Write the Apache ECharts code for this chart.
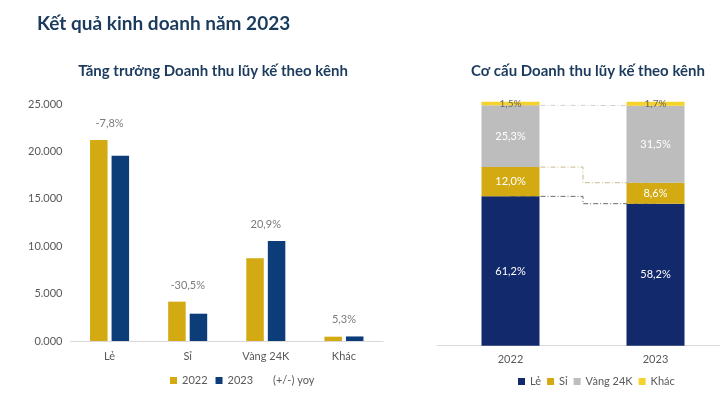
<!DOCTYPE html>
<html>
<head>
<meta charset="utf-8">
<script src="https://cdn.jsdelivr.net/npm/echarts@6/dist/echarts.min.js"></script>
<style>html,body{margin:0;padding:0;background:#fff}#c{width:720px;height:420px}</style>
</head>
<body>
<div id="c"></div>
<script>
// ---- Left chart data ----
const channels = ['Lẻ', 'Sỉ', 'Vàng 24K', 'Khác'];
const rev2022 = [21200, 4150, 8730, 455];
const rev2023 = [19550, 2880, 10550, 480];
const yoy = [-7.8, -30.5, 20.9, 5.3];
const yTicks = ['0.000', '5.000', '10.000', '15.000', '20.000', '25.000'];

// ---- Right chart data ----
const years = ['2022', '2023'];
const shareLe = [61.2, 58.2];
const shareSi = [12.0, 8.6];
const shareVang = [25.3, 31.5];
const shareKhac = [1.5, 1.7];

const FONT = 'Lato, "Noto Sans", sans-serif';
const NAVY_T = '#1b3b5e';
const GOLD = '#d4aa12';
const BLUE = '#0c3d78';
const NAVY = '#12296c';
const GRAY = '#bdbdbd';
const YELLOW = '#f6d22c';
const TXT = '#595959';

const pct = v => v.toFixed(1).replace('.', ',') + '%';
const cum = (...arrs) => arrs[0].map((_, i) => arrs.reduce((s, a) => s + a[i], 0));
const cumLe = cum(shareLe);
const cumSi = cum(shareLe, shareSi);
const cumVang = cum(shareLe, shareSi, shareVang);

const chart = echarts.init(document.getElementById('c'), null, {renderer: 'canvas'});
const option = {
  backgroundColor: '#fff',
  textStyle: {fontFamily: FONT},
  animation: false,
  title: [
    {text: 'Kết quả kinh doanh năm 2023', left: 32, top: 9,
     textStyle: {fontFamily: FONT, fontSize: 19, fontWeight: 'bold', color: NAVY_T}},
    {text: 'Tăng trưởng Doanh thu lũy kế theo kênh', left: 208, top: 59, textAlign: 'center',
     textStyle: {fontFamily: FONT, fontSize: 15, fontWeight: 'bold', color: NAVY_T}},
    {text: 'Cơ cấu Doanh thu lũy kế theo kênh', left: 583, top: 59, textAlign: 'center',
     textStyle: {fontFamily: FONT, fontSize: 15, fontWeight: 'bold', color: NAVY_T}}
  ],
  legend: [
    {data: ['2022', '2023', {name: '(+/-) yoy', icon: 'none'}], left: 165, top: 370,
     itemWidth: 7, itemHeight: 7, itemGap: 8, icon: 'rect',
     textStyle: {fontFamily: FONT, fontSize: 11, color: TXT}},
    {data: ['Lẻ', 'Sỉ', 'Vàng 24K', 'Khác'], left: 513, top: 371,
     itemWidth: 7, itemHeight: 7, itemGap: 6, icon: 'rect',
     textStyle: {fontFamily: FONT, fontSize: 11, color: TXT}}
  ],
  grid: [
    {left: 70.5, right: 337, top: 104, bottom: 79},
    {left: 510.5, right: 64.5, top: 101.7, bottom: 74.3},
    {left: 437.5, right: 0, top: 101.7, bottom: 74.3}
  ],
  xAxis: [
    {type: 'category', gridIndex: 0, data: channels,
     axisLine: {lineStyle: {color: '#d9d9d9'}}, axisTick: {show: false},
     axisLabel: {color: TXT, fontSize: 11, margin: 10, fontFamily: FONT}},
    {type: 'category', gridIndex: 1, data: years, boundaryGap: false,
     axisLine: {show: false}, axisTick: {show: false},
     axisLabel: {color: TXT, fontSize: 11, margin: 8, fontFamily: FONT}},
    {type: 'category', gridIndex: 2, data: years,
     axisLine: {lineStyle: {color: '#d9d9d9'}}, axisTick: {show: false}, axisLabel: {show: false}}
  ],
  yAxis: [
    {type: 'value', gridIndex: 0, min: 0, max: 25000, interval: 5000,
     axisLine: {show: false}, axisTick: {show: false}, splitLine: {show: false},
     axisLabel: {color: TXT, fontSize: 11, margin: 8, fontFamily: FONT,
       formatter: v => yTicks[Math.round(v / 5000)]}},
    {type: 'value', gridIndex: 1, min: 0, max: 100, show: false, splitLine: {show: false}},
    {type: 'value', gridIndex: 2, min: 0, max: 100, show: false, splitLine: {show: false}}
  ],
  series: [
    {name: '2022', type: 'bar', xAxisIndex: 0, yAxisIndex: 0, data: rev2022,
     barWidth: 17.5, barGap: '23%', itemStyle: {color: GOLD}},
    {name: '2023', type: 'bar', xAxisIndex: 0, yAxisIndex: 0, data: rev2023,
     barWidth: 17.5, barGap: '23%', itemStyle: {color: BLUE}},
    {name: '(+/-) yoy', type: 'scatter', xAxisIndex: 0, yAxisIndex: 0,
     symbolSize: 0, itemStyle: {color: 'transparent'},
     data: rev2022.map((v, i) => Math.max(v, rev2023[i])),
     label: {show: true, position: 'top', distance: 11, color: TXT, fontSize: 11, fontFamily: FONT,
       formatter: p => pct(yoy[p.dataIndex])}},
    // connectors (behind bars)
    {type: 'line', xAxisIndex: 1, yAxisIndex: 1, data: cumLe, step: 'middle', symbol: 'none', z: 1,
     lineStyle: {color: '#6b6b6b', width: 1, type: [5, 2, 1, 2]}},
    {type: 'line', xAxisIndex: 1, yAxisIndex: 1, data: cumSi, step: 'middle', symbol: 'none', z: 1,
     lineStyle: {color: '#c9b98a', width: 1, type: [5, 2, 1, 2]}},
    {type: 'line', xAxisIndex: 1, yAxisIndex: 1, data: cumVang, step: 'middle', symbol: 'none', z: 1,
     lineStyle: {color: '#d0d0d0', width: 1, type: [5, 2, 1, 2]}},
    {name: 'Lẻ', type: 'bar', stack: 's', xAxisIndex: 1, yAxisIndex: 1, data: shareLe, barWidth: 58, z: 3,
     itemStyle: {color: NAVY},
     label: {show: true, position: 'inside', color: '#fff', fontSize: 11, fontFamily: FONT, formatter: p => pct(p.value)}},
    {name: 'Sỉ', type: 'bar', stack: 's', xAxisIndex: 1, yAxisIndex: 1, data: shareSi, barWidth: 58, z: 3,
     itemStyle: {color: GOLD},
     label: {show: true, position: 'inside', color: '#fff', fontSize: 11, fontFamily: FONT, formatter: p => pct(p.value)}},
    {name: 'Vàng 24K', type: 'bar', stack: 's', xAxisIndex: 1, yAxisIndex: 1, data: shareVang, barWidth: 58, z: 3,
     itemStyle: {color: GRAY},
     label: {show: true, position: 'inside', color: '#fff', fontSize: 11, fontFamily: FONT, formatter: p => pct(p.value)}},
    {name: 'Khác', type: 'bar', stack: 's', xAxisIndex: 1, yAxisIndex: 1, data: shareKhac, barWidth: 58, z: 3,
     itemStyle: {color: YELLOW},
     label: {show: true, position: 'inside', color: '#666', fontSize: 10, fontFamily: FONT, formatter: p => pct(p.value)}}
  ]
};
chart.setOption(option);
</script>
</body>
</html>
